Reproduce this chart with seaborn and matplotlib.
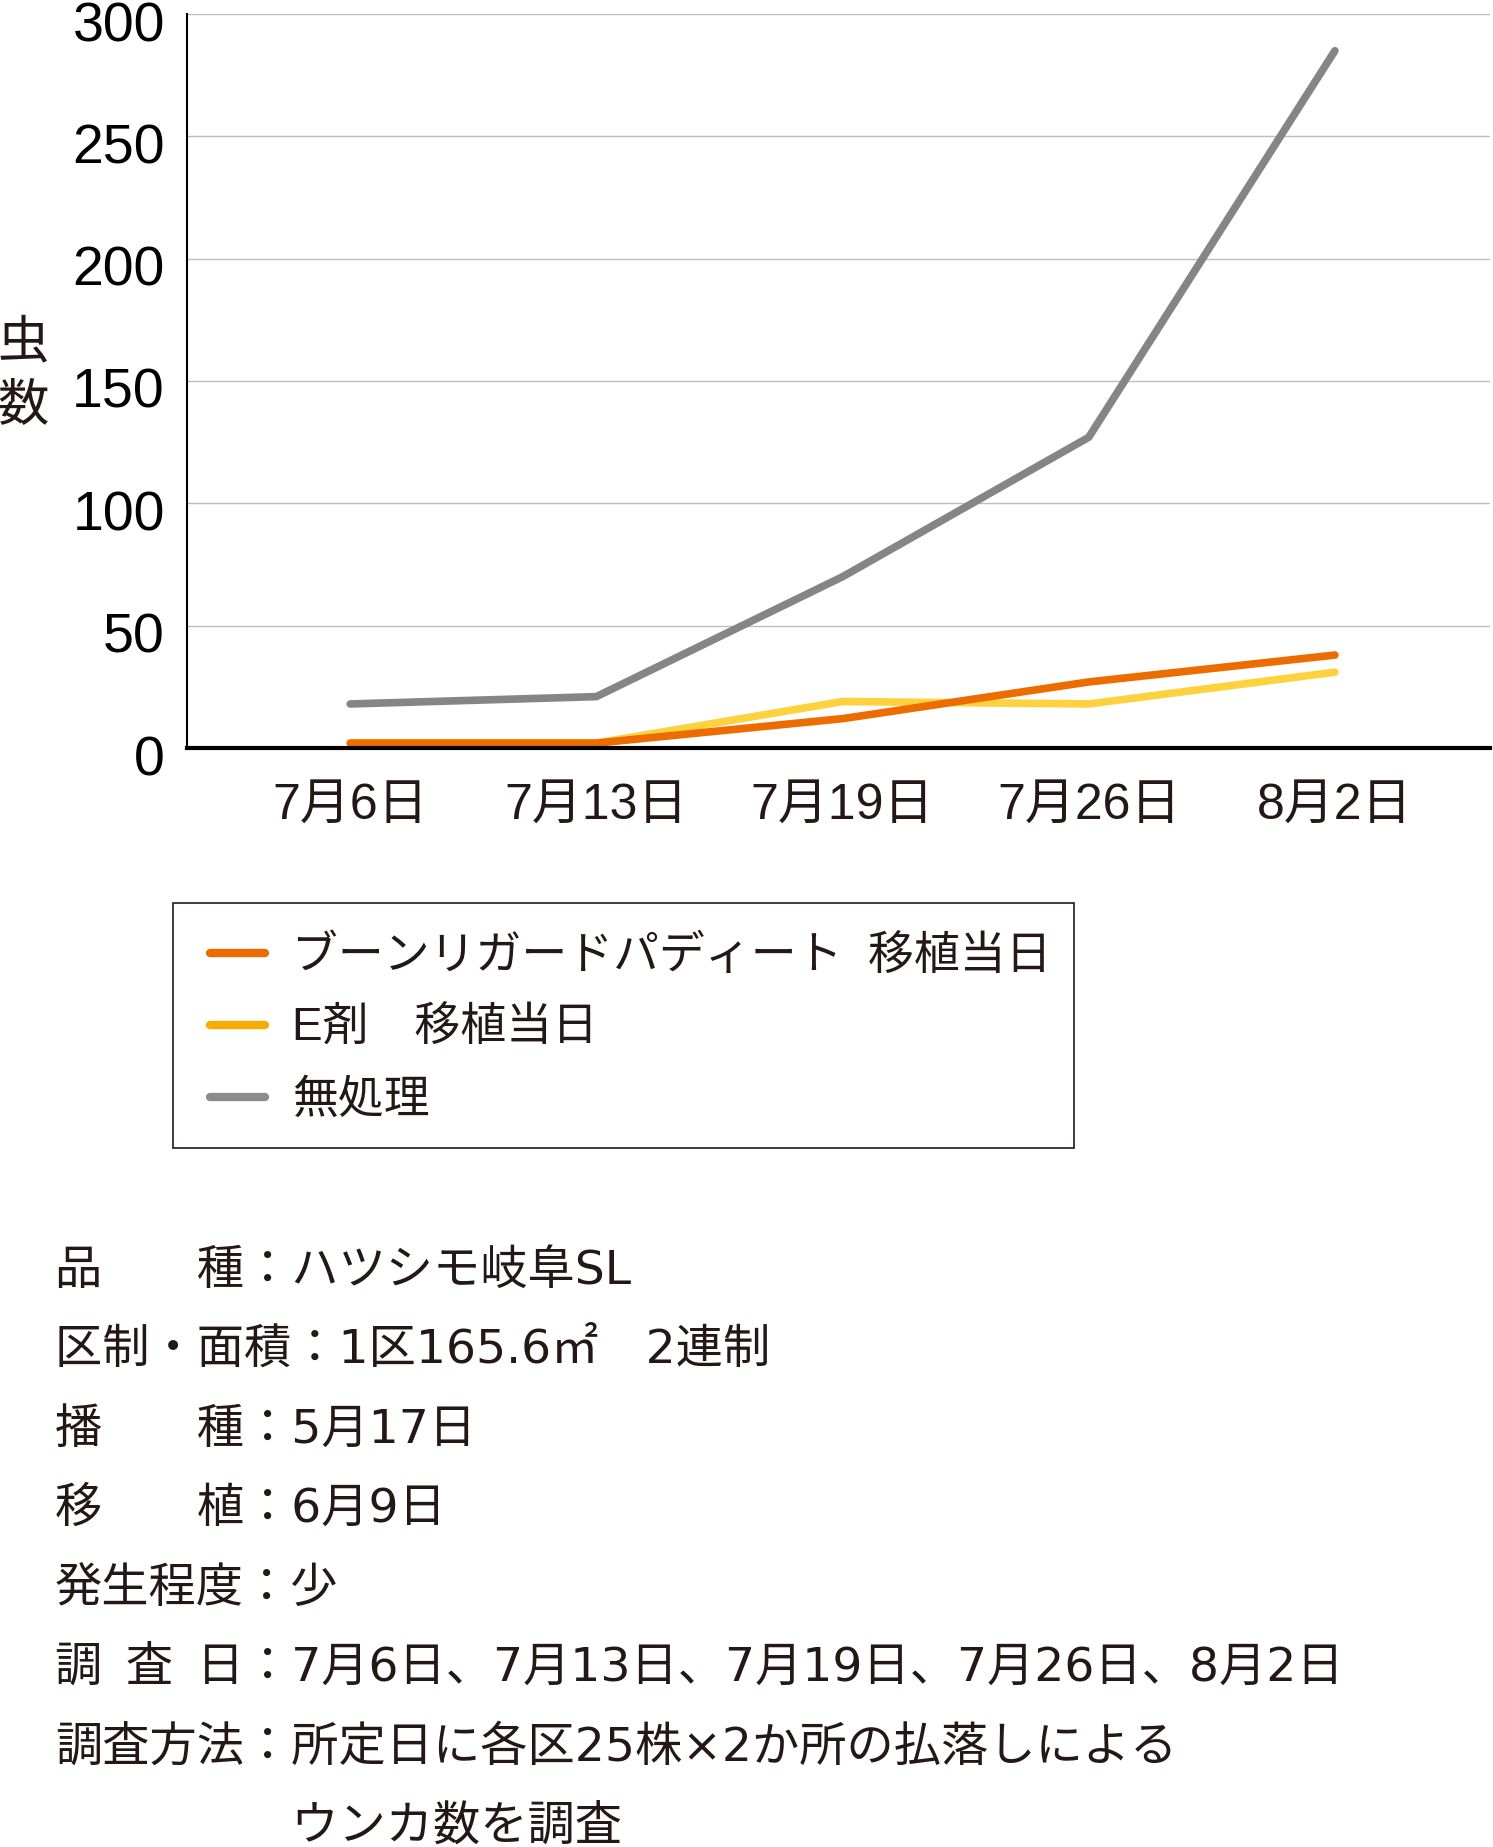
import numpy as np
import pandas as pd
import matplotlib
matplotlib.use("Agg")
import matplotlib.pyplot as plt
import matplotlib.transforms as mtransforms
from matplotlib.lines import Line2D
from matplotlib.patches import Rectangle
import seaborn as sns

# ── data ──
dates = ["7月6日", "7月13日", "7月19日", "7月26日", "8月2日"]
boon = [2, 2, 12, 27, 38]          # ブーンリガードパディート 移植当日
e_agent = [2, 2, 19, 18, 31]       # E剤 移植当日
untreated = [18, 21, 70, 127, 285] # 無処理

series_names = ["ブーンリガードパディート  移植当日", "E剤　移植当日", "無処理"]
line_colors = ["#EC6C00", "#FDD23E", "#858585"]
legend_colors = ["#EC6C00", "#F6AD00", "#8C8C8C"]
y_ticks = [0, 50, 100, 150, 200, 250, 300]

notes = [
    "品　　種：ハツシモ岐阜SL",
    "区制・面積：1区165.6㎡　2連制",
    "播　　種：5月17日",
    "移　　植：6月9日",
    "発生程度：少",
    "調\u2002査\u2002日：7月6日、7月13日、7月19日、7月26日、8月2日",
    "調査方法：所定日に各区25株×2か所の払落しによる",
    "　　　　　ウンカ数を調査",
]

TXT = "#231815"
W, H = 1493, 1847
LATIN_CJK = ["Liberation Sans", "Noto Sans CJK JP"]
NOTE_FONT = ["DejaVu Sans", "Noto Sans CJK JP"]

sns.set_theme(style="white")
plt.rcParams["font.family"] = LATIN_CJK
plt.rcParams["text.color"] = TXT

df = pd.DataFrame({
    "date": dates * 3,
    "count": untreated + e_agent + boon,
    "series": [series_names[2]] * 5 + [series_names[1]] * 5 + [series_names[0]] * 5,
})

fig = plt.figure(figsize=(W / 100, H / 100), dpi=100)
ax = fig.add_axes([187 / W, 1 - 748 / H, (1490 - 187) / W, (748 - 14) / H])

sns.lineplot(
    data=df, x="date", y="count", hue="series",
    hue_order=[series_names[2], series_names[1], series_names[0]],
    palette=[line_colors[2], line_colors[1], line_colors[0]],
    linewidth=5.5, sort=False, legend=False, ax=ax,
    solid_capstyle="round", solid_joinstyle="round",
)

ax.set_xlim(-0.663, 4.63)
ax.set_ylim(0, 300)
ax.set_yticks(y_ticks)
ax.set_yticklabels([str(v) for v in y_ticks])
ax.set_xlabel("")
ax.set_ylabel("")
ax.yaxis.grid(True, color="#BDBDBD", linewidth=1.0)
ax.xaxis.grid(False)
ax.tick_params(axis="y", length=0, pad=16, labelsize=40, labelcolor="black")
ax.tick_params(axis="x", length=0, pad=25, labelsize=36, labelcolor=TXT)
for s in ["top", "right"]:
    ax.spines[s].set_visible(False)
ax.spines["left"].set_color("black")
ax.spines["left"].set_linewidth(1.5)
ax.spines["bottom"].set_color("black")
ax.spines["bottom"].set_linewidth(3.0)
ax.spines["bottom"].set_zorder(5)

# y tick labels sit a little below their gridlines
shift = mtransforms.ScaledTranslation(0, -7 / 100, fig.dpi_scale_trans)
for lab in ax.get_yticklabels():
    lab.set_transform(lab.get_transform() + shift)

# y label written vertically
fig.text(23 / W, 1 - 375 / H, "虫\n数", fontsize=37, ha="center", va="center",
         linespacing=1.35, color=TXT)

# legend
handles = [Line2D([0], [0], color=c, lw=6, solid_capstyle="round") for c in legend_colors]
leg = fig.legend(
    handles, series_names, loc="center left",
    bbox_to_anchor=(210 / W, 1 - 1029 / H), frameon=False,
    fontsize=33, handlelength=1.2, handletextpad=0.6,
    labelspacing=0.62, borderpad=0, borderaxespad=0,
)
for t in leg.get_texts():
    t.set_color(TXT)
fig.patches.append(Rectangle((173 / W, 1 - 1148 / H), (1074 - 173) / W, (1148 - 903) / H,
                             transform=fig.transFigure, fill=False,
                             edgecolor=TXT, linewidth=1.2))

# notes below the chart
row_y = [1271, 1350, 1430, 1509, 1589, 1668, 1748, 1827]
for txt, yy in zip(notes, row_y):
    fig.text(55 / W, 1 - yy / H, txt, fontsize=34, ha="left", va="center",
             color=TXT, family=NOTE_FONT)

fig.savefig("out.png", dpi=100)
